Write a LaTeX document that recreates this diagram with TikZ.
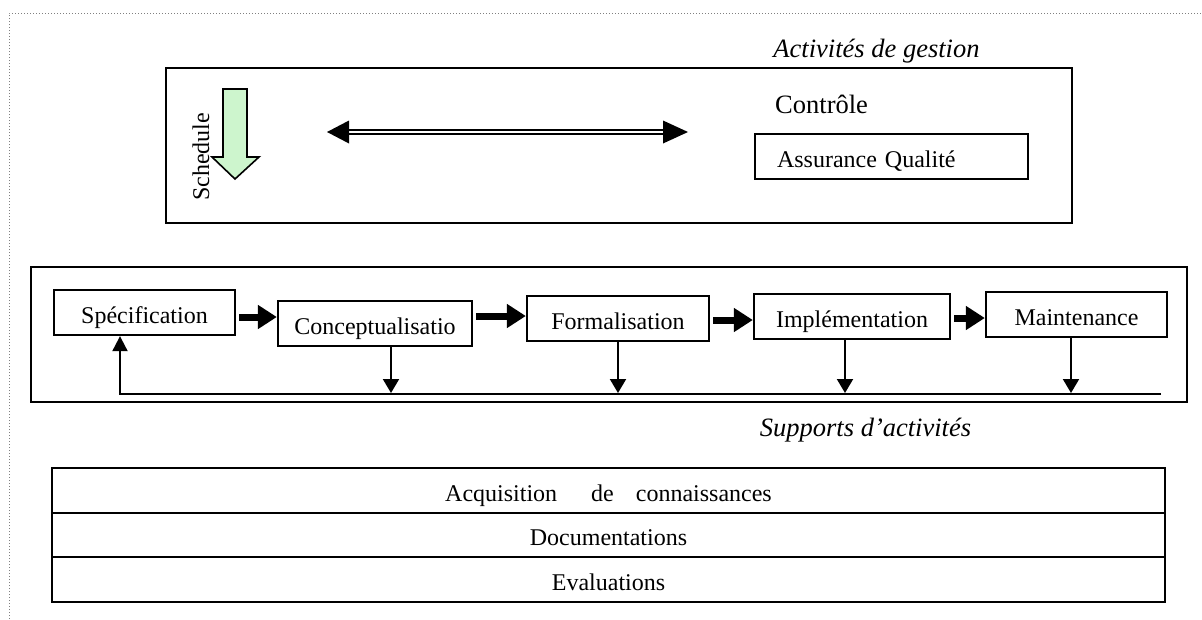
\documentclass[tikz,border=0pt]{standalone}
\usepackage{fontspec}
\setmainfont{Liberation Serif}
\usetikzlibrary{arrows.meta,calc}
\definecolor{schedgreen}{RGB}{205,245,205}

\begin{document}
\begin{tikzpicture}[x=1pt,y=-1pt,
  base/.style={font=\fontsize{24}{28}\selectfont},
  biglabel/.style={font=\fontsize{26.5}{30}\selectfont},
  itlabel/.style={font=\fontsize{26.5}{30}\selectfont\itshape},
  lowtext/.style={text height=21pt, text depth=0pt},
  stage/.style={draw, line width=2.3pt, minimum height=45pt, inner sep=0pt, base, lowtext},
  row/.style={draw, line width=2.3pt, minimum width=1113pt, inner sep=0pt, base, lowtext},
  fat/.style={line width=7pt, shorten <=3pt, -{Triangle[length=19pt,width=23pt]}},
  drop/.style={line width=2pt, -{Triangle[length=14pt,width=16pt]}},
]
\useasboundingbox (0,0) rectangle (1202,619);

% outer dotted frame
\draw[gray, dotted, line width=1pt] (9,619) -- (9,13) -- (1202,13);

% management activities
\node[itlabel] (mgmtlbl) at (876.5,51) {Activités de gestion};
\node[draw, line width=2.3pt, minimum width=906pt, minimum height=155pt] (mgmt) at (619,145.5) {};
\node[biglabel, anchor=west, inner sep=0pt] (ctrl) at (775,104) {Contrôle};
\node[draw, line width=1.8pt, minimum width=273pt, minimum height=45pt,
      text width=229pt, inner xsep=22pt, inner ysep=0pt, align=left, base,
      text height=22pt, text depth=0pt] (aq)
      at (891.5,156.5) {Assurance Qualité};

% schedule block arrow
\draw[line width=1.6pt, fill=schedgreen, line join=miter]
  (223,89) -- (247,89) -- (247,157) -- (259,157) -- (235,179) -- (212,157) -- (223,157) -- cycle;
\node[base, rotate=90] (sched) at (201,157) {Schedule};

% double-headed double-line arrow
\coordinate (dl) at (327,132);
\coordinate (dr) at (688,132);
\draw[line width=2pt]
  ($(dl)+(20,-2.3)$) -- ($(dr)+(-23,-2.3)$)
  ($(dl)+(20,2.3)$) -- ($(dr)+(-23,2.3)$);
\fill (dl) -- ++(22,-11.5) -- ++(0,23) -- cycle;
\fill (dr) -- ++(-25,-11.5) -- ++(0,23) -- cycle;

% life cycle
\node[draw, line width=2.3pt, minimum width=1156pt, minimum height=135pt] (lifecycle) at (609,334.5) {};
\node[stage, minimum width=181pt] (spec)  at (144.5,312.5) {Spécification};
\node[stage, minimum width=194pt] (conc)  at (375,323.5)   {Conceptualisatio};
\node[stage, minimum width=182pt] (form)  at (618,318.5)   {Formalisation};
\node[stage, minimum width=196pt] (impl)  at (852,316.5)   {Implémentation};
\node[stage, minimum width=181pt] (maint) at (1076.5,314.5) {Maintenance};

\draw[fat] (spec.east |- 0,317) -- (conc.west |- 0,317);
\draw[fat] (conc.east |- 0,316) -- (form.west |- 0,316);
\draw[fat] (form.east |- 0,320) -- (impl.west |- 0,320);
\draw[fat] (impl.east |- 0,318) -- (maint.west |- 0,318);

% feedback line
\coordinate (fbl) at (120,394);
\coordinate (fbr) at (1161,394);
\draw[line width=2pt, -{Triangle[length=15pt,width=15pt]}] (fbr) -- (fbl) -- (spec.south -| fbl);
\draw[drop] (conc.south -| 391,0)  -- (391,393);
\draw[drop] (form.south -| 618,0)  -- (618,393);
\draw[drop] (impl.south -| 845,0)  -- (845,393);
\draw[drop] (maint.south -| 1071,0) -- (1071,393);

% support activities
\node[itlabel] (suplbl) at (865.5,430) {Supports d’activités};
\node[row, minimum height=45pt] (acq)  at (608.5,490.5) {Acquisition\hspace{34pt}de\hspace{22pt}connaissances};
\node[row, minimum height=44pt] (doc)  at (608.5,535)   {Documentations};
\node[row, minimum height=45pt] (eval) at (608.5,579.5) {Evaluations};
\end{tikzpicture}
\end{document}
